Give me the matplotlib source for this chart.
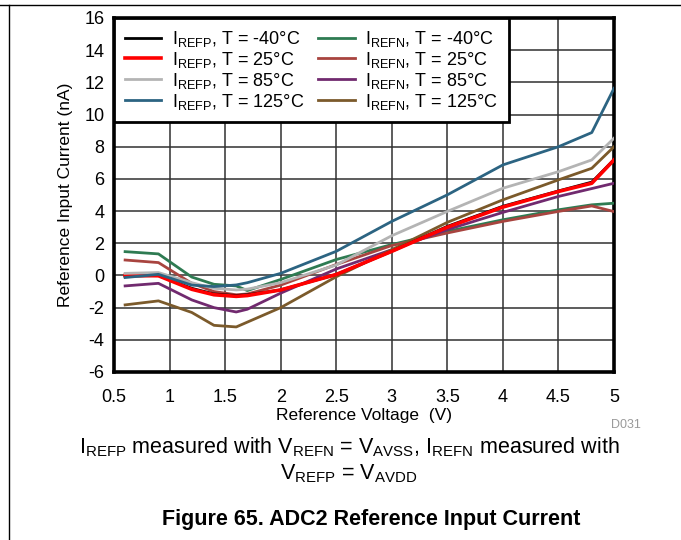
import matplotlib
matplotlib.use("Agg")
import matplotlib.pyplot as plt
from matplotlib.lines import Line2D

plt.rcParams['font.family'] = ['Liberation Sans', 'DejaVu Sans']
plt.rcParams['mathtext.fontset'] = 'custom'
plt.rcParams['mathtext.rm'] = 'Liberation Sans'
plt.rcParams['mathtext.it'] = 'Liberation Sans:italic'
plt.rcParams['mathtext.bf'] = 'Liberation Sans:bold'
plt.rcParams['axes.unicode_minus'] = False

# Reference voltage (V)
voltage = [0.6, 0.9, 1.2, 1.4, 1.6, 1.7, 2.0, 2.5, 3.0, 3.5, 4.0, 4.5, 4.8, 5.0]

# Reference input current (nA)
irefp_m40 = [-0.05, 0.0, -0.8, -1.15, -1.25, -1.2, -0.9, 0.06, 1.5, 3.05, 4.3, 5.25, 5.8, 7.2]
irefp_25 = [0.0, -0.02, -0.86, -1.2, -1.3, -1.25, -0.9, 0.06, 1.5, 3.0, 4.25, 5.22, 5.73, 7.18]
irefp_85 = [0.13, 0.18, -0.45, -0.8, -0.9, -0.85, -0.45, 0.65, 2.47, 3.98, 5.42, 6.45, 7.18, 8.53]
irefp_125 = [-0.13, 0.07, -0.6, -0.69, -0.59, -0.45, 0.13, 1.5, 3.36, 5.01, 6.87, 8.0, 8.88, 11.63]
irefn_m40 = [1.48, 1.34, -0.1, -0.55, -0.65, -0.94, -0.25, 0.99, 1.92, 2.74, 3.46, 4.08, 4.39, 4.49]
irefn_25 = [0.96, 0.8, -0.49, -1.0, -1.2, -1.15, -0.6, 0.68, 1.86, 2.64, 3.36, 3.98, 4.32, 3.97]
irefn_85 = [-0.65, -0.49, -1.52, -2.0, -2.27, -2.1, -1.1, 0.4, 1.6, 2.85, 3.92, 4.91, 5.4, 5.73]
irefn_125 = [-1.83, -1.58, -2.3, -3.1, -3.2, -2.9, -2.0, -0.08, 1.6, 3.3, 4.7, 5.94, 6.66, 8.0]

labels_p = [r'I$_{\mathrm{REFP}}$, T = -40°C', r'I$_{\mathrm{REFP}}$, T = 25°C',
            r'I$_{\mathrm{REFP}}$, T = 85°C', r'I$_{\mathrm{REFP}}$, T = 125°C']
labels_n = [r'I$_{\mathrm{REFN}}$, T = -40°C', r'I$_{\mathrm{REFN}}$, T = 25°C',
            r'I$_{\mathrm{REFN}}$, T = 85°C', r'I$_{\mathrm{REFN}}$, T = 125°C']
colors_p = ['#000000', '#ff0000', '#b4b4b4', '#2c6482']
colors_n = ['#2e7b52', '#a8443f', '#712a6f', '#7b5a2b']

xticks = [0.5, 1, 1.5, 2, 2.5, 3, 3.5, 4, 4.5, 5]
xticklabels = ['0.5', '1', '1.5', '2', '2.5', '3', '3.5', '4', '4.5', '5']
yticks = [-6, -4, -2, 0, 2, 4, 6, 8, 10, 12, 14, 16]

fig = plt.figure(figsize=(6.81, 5.4), dpi=100)
ax = fig.add_axes([114/681, 1-372/540, 500/681, 354/540])

series_p = [irefp_m40, irefp_25, irefp_85, irefp_125]
series_n = [irefn_m40, irefn_25, irefn_85, irefn_125]

handles_p = []
handles_n = []
for s, c, l in zip(series_n, colors_n, labels_n):
    h, = ax.plot(voltage, s, color=c, lw=2.0, label=l, zorder=3)
    handles_n.append(h)
for s, c, l in zip(series_p, colors_p, labels_p):
    lw = 2.6 if c == '#ff0000' else 2.0
    h, = ax.plot(voltage, s, color=c, lw=lw, label=l, zorder=4)
    handles_p.append(h)

ax.set_xlim(0.5, 5)
ax.set_ylim(-6, 16)
ax.set_xticks(xticks)
ax.set_xticklabels(xticklabels)
ax.set_yticks(yticks)
ax.tick_params(labelsize=13, length=0)
ax.tick_params(axis='x', pad=12)
ax.tick_params(axis='y', pad=7)
ax.grid(True, color='#303030', lw=1.1)
ax.set_axisbelow(True)
for sp in ax.spines.values():
    sp.set_linewidth(2.6)
    sp.set_color('black')

ax.set_xlabel('Reference Voltage  (V)', fontsize=12.5, labelpad=2)
ax.set_ylabel('Reference Input Current (nA)', fontsize=12.5, labelpad=8)

leg = ax.legend(handles_p + handles_n, labels_p + labels_n, ncol=2,
                loc='upper left', bbox_to_anchor=(0, 1), borderaxespad=0,
                fontsize=13, frameon=True, fancybox=False, framealpha=1,
                edgecolor='black', handlelength=2.0, handletextpad=0.6,
                columnspacing=0.8, labelspacing=0.05, borderpad=0.6)
leg.get_frame().set_linewidth(2.0)
leg.set_zorder(10)

fig.text(641/681, 1-425/540, 'D031', fontsize=9, color='#9a9a9a', ha='right', va='center')
fig.text(349/681, 1-447/540,
         r'I$_{\mathrm{REFP}}$ measured with V$_{\mathrm{REFN}}$ = V$_{\mathrm{AVSS}}$, I$_{\mathrm{REFN}}$ measured with',
         fontsize=15.5, ha='center', va='center')
fig.text(349/681, 1-474/540, r'V$_{\mathrm{REFP}}$ = V$_{\mathrm{AVDD}}$',
         fontsize=15.5, ha='center', va='center')
fig.text(371/681, 1-519/540, 'Figure 65. ADC2 Reference Input Current',
         fontsize=15.5, fontweight='bold', ha='center', va='center')

fig.add_artist(Line2D([0, 1], [1-5/540, 1-5/540], transform=fig.transFigure, color='black', lw=1))
fig.add_artist(Line2D([9/681, 9/681], [0, 1-5/540], transform=fig.transFigure, color='black', lw=1))

fig.savefig('out.png', dpi=100)
